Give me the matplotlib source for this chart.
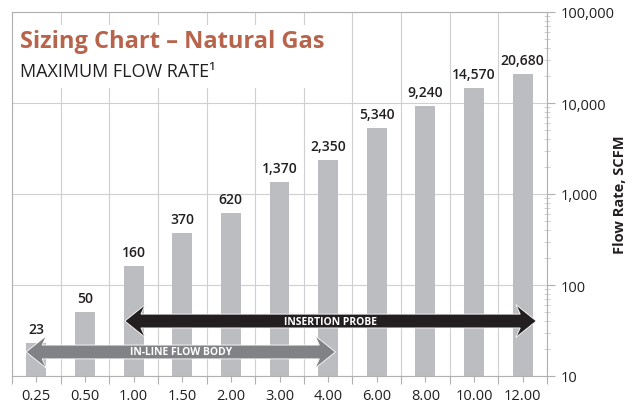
import matplotlib
matplotlib.use("Agg")
import matplotlib.pyplot as plt
import matplotlib.transforms as mtransforms
from matplotlib.patches import Polygon, Rectangle
from matplotlib.ticker import FixedLocator, LogLocator, NullFormatter
import numpy as np

plt.rcParams['font.family'] = ['Open Sans', 'DejaVu Sans']

sizes = ["0.25", "0.50", "1.00", "1.50", "2.00", "3.00", "4.00", "6.00", "8.00", "10.00", "12.00"]
flow = [23, 50, 160, 370, 620, 1370, 2350, 5340, 9240, 14570, 20680]
flow_labels = ["23", "50", "160", "370", "620", "1,370", "2,350", "5,340", "9,240", "14,570", "20,680"]
y_ticks = [10, 100, 1000, 10000, 100000]
y_tick_labels = ["10", "100", "1,000", "10,000", "100,000"]

title = "Sizing Chart \u2013 Natural Gas"
subtitle = "MAXIMUM FLOW RATE\u00b9"
ylabel = "Flow Rate, SCFM"

fig = plt.figure(figsize=(6.32, 4.10), dpi=100)
ax = fig.add_axes([12/632, 33/410, 535/632, 364/410])

x = np.arange(len(sizes))
ax.bar(x, flow, width=0.41, color="#BCBDC0", zorder=2)
for xi, v, lab in zip(x, flow, flow_labels):
    ax.annotate(lab, (xi, v), xytext=(0, 5), textcoords="offset points",
                ha="center", va="bottom", fontsize=10, fontweight="semibold",
                color="#231F20", zorder=3)

ax.set_yscale("log")
ax.set_ylim(10, 100000)
ax.set_xlim(-0.5, len(sizes) - 0.5)

ax.yaxis.tick_right()
ax.yaxis.set_major_locator(FixedLocator(y_ticks))
ax.set_yticklabels(y_tick_labels)
ax.yaxis.set_minor_locator(LogLocator(base=10, subs=np.arange(2, 10)))
ax.yaxis.set_minor_formatter(NullFormatter())
ax.tick_params(axis="y", which="major", direction="out", length=6, width=0.8,
               color="#B0B0B0", labelsize=10.5, pad=4, labelcolor="#231F20")
ax.tick_params(axis="y", which="minor", direction="inout", length=4, width=0.6,
               color="#C8C8C8")
fig.text(620/632, 0.5 + (195 - 205) / -410 * 0 + (410 - 195) / 410 - 0.5, ylabel,
         rotation=90, ha="center", va="center", fontsize=10.5,
         fontweight="bold", color="#231F20")

ax.set_xticks(x)
ax.set_xticklabels(sizes)
ax.set_xticks(np.arange(-0.5, len(sizes)), minor=True)
ax.tick_params(axis="x", which="major", direction="out", length=4, width=0.8,
               color="#B0B0B0", labelsize=10.5, pad=5, labelcolor="#231F20")
ax.tick_params(axis="x", which="minor", direction="out", length=6, width=0.8,
               color="#B0B0B0")

ax.grid(True, which="minor", axis="x", color="#D0D0D0", linewidth=0.8, zorder=0)
ax.grid(True, which="major", axis="y", color="#D0D0D0", linewidth=0.8, zorder=0)
ax.set_axisbelow(True)
for s in ax.spines.values():
    s.set_color("#B0B0B0")
    s.set_linewidth(0.8)

# title box
ax.add_patch(Rectangle((0.0, 0.79), 0.60, 0.175, transform=ax.transAxes,
                       facecolor="white", edgecolor="none", zorder=1.5))
ax.text(0.015, 0.92, title, transform=ax.transAxes, fontsize=17,
        fontweight="bold", color="#B8644C", va="center", ha="left", zorder=4)
ax.text(0.015, 0.838, subtitle, transform=ax.transAxes, fontsize=13,
        color="#231F20", va="center", ha="left", zorder=4)

# double arrows
trans = mtransforms.blended_transform_factory(ax.transData, ax.transAxes)


def double_arrow(x0, x1, yc, color, label):
    L = 0.42
    h = 0.019
    H = 0.045
    notch = 0.33
    pts = [
        (x0, yc),
        (x0 + L, yc + H),
        (x0 + notch, yc + h),
        (x1 - notch, yc + h),
        (x1 - L, yc + H),
        (x1, yc),
        (x1 - L, yc - H),
        (x1 - notch, yc - h),
        (x0 + notch, yc - h),
        (x0 + L, yc - H),
    ]
    ax.add_patch(Polygon(pts, closed=True, transform=trans, facecolor=color,
                         edgecolor="white", linewidth=0.6, zorder=5))
    ax.text((x0 + x1) / 2, yc, label, transform=trans, ha="center", va="center",
            fontsize=7.5, fontweight="bold", color="white", zorder=6)


double_arrow(1.82, 10.28, 0.151, "#231F20", "INSERTION PROBE")
double_arrow(-0.21, 6.15, 0.066, "#808285", "IN-LINE FLOW BODY")

fig.savefig("out.png", dpi=100)
